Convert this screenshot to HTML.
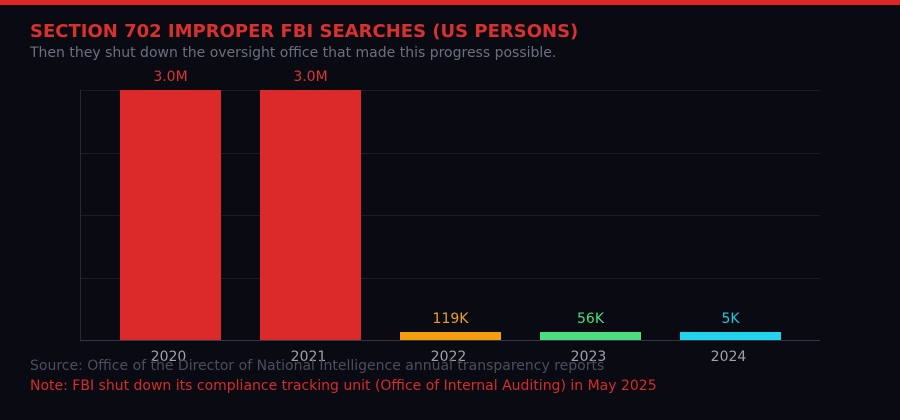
<!DOCTYPE html>
<html><head><meta charset="utf-8"><style>
html,body{margin:0;padding:0;background:#0a0a12;}
svg{display:block;}
text{font-family:"DejaVu Sans","Liberation Sans",sans-serif;}
</style></head><body>
<svg width="900" height="420" viewBox="0 0 900 420" xmlns="http://www.w3.org/2000/svg">
<rect width="900" height="420" fill="#0a0a12"/>
<rect x="0" y="0" width="900" height="5" fill="#dc2626"/>
<text x="30" y="37" font-size="18" font-weight="bold" fill="#d93030">SECTION 702 IMPROPER FBI SEARCHES (US PERSONS)</text>
<text x="30" y="57" font-size="14" fill="#6b7080">Then they shut down the oversight office that made this progress possible.</text>
<g stroke="#1c1c26" stroke-width="1">
<line x1="80" y1="90.5" x2="820" y2="90.5"/>
<line x1="80" y1="153.5" x2="820" y2="153.5"/>
<line x1="80" y1="215.5" x2="820" y2="215.5"/>
<line x1="80" y1="278.5" x2="820" y2="278.5"/>
</g>
<line x1="80.5" y1="90" x2="80.5" y2="340" stroke="#2a2a36" stroke-width="1"/>
<rect x="120" y="90" width="101" height="250" fill="#dc2a2a"/>
<rect x="260" y="90" width="101" height="250" fill="#dc2a2a"/>
<rect x="400" y="332" width="101" height="8" fill="#f59e0b"/>
<rect x="540" y="332" width="101" height="8" fill="#4ade80"/>
<rect x="680" y="332" width="101" height="8" fill="#22d3ee"/>
<line x1="80" y1="340.5" x2="820" y2="340.5" stroke="#363644" stroke-width="1"/>
<g font-size="14" text-anchor="middle">
<text x="170.5" y="81" fill="#d93535">3.0M</text>
<text x="310.5" y="81" fill="#d93535">3.0M</text>
<text x="450.5" y="323" fill="#f0a020">119K</text>
<text x="590.5" y="323" fill="#4ade80">56K</text>
<text x="730.5" y="323" fill="#22c8e0">5K</text>
</g>
<g font-size="14" text-anchor="middle" fill="#a0a0aa">
<text x="168.5" y="361">2020</text>
<text x="308.5" y="361">2021</text>
<text x="448.5" y="361">2022</text>
<text x="588.5" y="361">2023</text>
<text x="728.5" y="361">2024</text>
</g>
<text x="30" y="370" font-size="14" fill="#4a4e5e">Source: Office of the Director of National Intelligence annual transparency reports</text>
<text x="30" y="390" font-size="14" fill="#d52c2c">Note: FBI shut down its compliance tracking unit (Office of Internal Auditing) in May 2025</text>
</svg>
</body></html>
